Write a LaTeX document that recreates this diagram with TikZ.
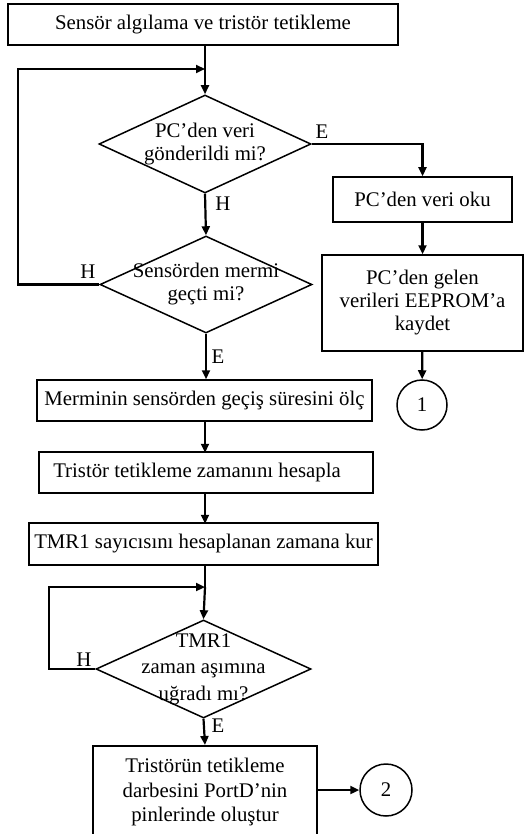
\documentclass[tikz,border=0pt]{standalone}
\usepackage{fontspec}
\setmainfont{Liberation Serif}
\usetikzlibrary{shapes.geometric,arrows.meta}
\begin{document}
\begin{tikzpicture}[x=1pt,y=1pt,
  box/.style={draw,line width=1.5pt,inner sep=0pt,font=\fontsize{20.8}{23}\selectfont,align=center},
  dec/.style={draw,diamond,line width=1.5pt,inner sep=0pt},
  dtext/.style={font=\fontsize{20.8}{23}\selectfont,align=center,inner sep=0pt},
  conn/.style={draw,circle,line width=1.5pt,inner sep=0pt,font=\fontsize{20.8}{22}\selectfont},
  lbl/.style={font=\fontsize{20.8}{22}\selectfont,inner sep=0pt},
  arr/.style={line width=2.2pt,-{Triangle[length=9pt,width=8pt]}},
  ln/.style={line width=2.2pt}]
\useasboundingbox (0,0) rectangle (531,-834);
% top box
\node[box,minimum width=390pt,minimum height=41pt] (start) at (203,-24.5) {Sensör algılama ve tristör tetikleme};
% decision 1
\node[dec,minimum width=212pt,minimum height=98pt] (d1) at (205,-144) {};
\node[dtext] (t1) at (d1.center) {PC’den veri\\gönderildi mi?};
% right branch
\node[box,minimum width=179pt,minimum height=45pt] (r1) at (422.5,-199.5) {PC’den veri oku};
\node[box,minimum width=201pt,minimum height=96pt] (r2) at (422.5,-303) {PC’den gelen\\verileri EEPROM’a\\kaydet};
\node[conn,minimum size=50pt] (c1) at (422,-405) {1};
% decision 2
\node[dec,minimum width=212pt,minimum height=97pt] (d2) at (206,-284.5) {};
\node[dtext] (t2) at (d2.center) {Sensörden mermi\\geçti mi?};
% process boxes
\node[box,minimum width=335pt,minimum height=41pt] (b1) at (204.5,-400.5) {Merminin sensörden geçiş süresini ölç};
\node[box,minimum width=334pt,minimum height=41pt] (b2) at (206,-472.5) {Tristör tetikleme zamanını hesapla\hspace*{18pt}};
\node[box,minimum width=349pt,minimum height=42pt] (b3) at (203.5,-544) {TMR1 sayıcısını hesaplanan zamana kur};
% decision 3
\node[dec,minimum width=215pt,minimum height=98pt] (d3) at (203.5,-669) {};
\node[dtext,font=\fontsize{20.8}{26.5}\selectfont] (t3) at (d3.center) {TMR1\\zaman aşımına\\uğradı mı?};
% bottom box (cut off by page)
\node[box,minimum width=224pt,minimum height=115pt,anchor=north] (b4) at (205,-745) {};
\node[dtext,font=\fontsize{20.8}{24.5}\selectfont] (t4) at (205,-792) {Tristörün tetikleme\\darbesini PortD’nin\\pinlerinde oluştur};
\node[conn,minimum size=52pt] (c2) at (386,-790) {2};
% coordinates
\coordinate (m1) at (205,-69);
\coordinate (l1a) at (18,-284.5);
\coordinate (l1b) at (18,-69);
\coordinate (e1) at (422.5,-144);
\coordinate (m2) at (205,-587);
\coordinate (l2a) at (49,-669);
\coordinate (l2b) at (49,-587);
\coordinate (b4e) at (317,-790);
% connectors
\draw[ln] (start.south -| m1) -- (m1);
\draw[arr] (m1) -- (d1.north);
\draw[arr] (d1.east) -- (e1) -- (r1.north);
\draw[arr] (r1) -- (r2);
\draw[arr] (r2) -- (c1);
\draw[arr] (d1.south) -- (d2.north);
\draw[arr] (d2.west) -- (l1a) -- (l1b) -- (m1);
\draw[arr] (d2.south) -- (d2.south |- b1.north);
\draw[arr] (b1.south -| b2) ++(-1,0) -- ++(0,-31);
\draw[arr] (b2.south) ++(-1,0) -- ++(0,-30);
\draw[ln] (b3.south -| m2) -- (m2);
\draw[arr] (m2) -- (d3.north);
\draw[arr] (d3.west) -- (l2a) -- (l2b) -- (m2);
\draw[arr] (d3.south) -- (b4.north);
\draw[arr] (b4e) -- (c2.west);
% labels
\node[lbl] (lE1) at (322,-132) {E};
\node[lbl] (lH1) at (223,-204) {H};
\node[lbl] (lH2) at (88,-272) {H};
\node[lbl] (lE2) at (218,-357) {E};
\node[lbl] (lH3) at (84,-660) {H};
\node[lbl] (lE3) at (218,-726) {E};
\end{tikzpicture}
\end{document}
